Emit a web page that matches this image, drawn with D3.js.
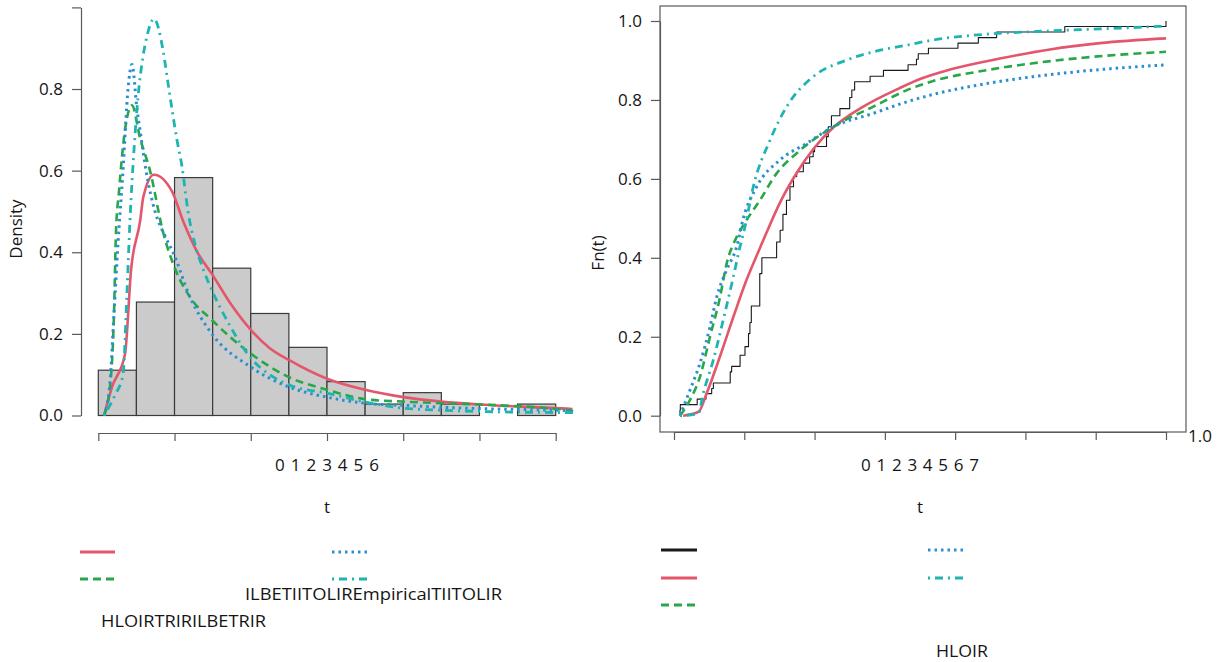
<!DOCTYPE html>
<html><head><meta charset="utf-8">
<script src="https://cdn.jsdelivr.net/npm/d3@7"></script>
<style>
body{margin:0;background:#fff}
svg{display:block}
text{font-family:"Open Sans",sans-serif;fill:#151515}
</style>
</head><body>
<svg id="c" width="1223" height="662"></svg>
<script>
// ---------- DATA ----------
const histBreaks = [0,0.5,1,1.5,2,2.5,3,3.5,4,4.5,5,5.5,6];
const histDensity = [0.111,0.278,0.583,0.361,0.25,0.167,0.083,0.028,0.056,0.028,0,0.028];

const leftXTicks = [0,1,2,3,4,5,6];
const leftYTicks = [0,0.2,0.4,0.6,0.8,1.0];
const rightXTicks = [0,1,2,3,4,5,6,7];
const rightYTicks = [0,0.2,0.4,0.6,0.8,1.0];

// density curves (t, density)
const densRed = [[0.075,0],[0.18,0.07],[0.35,0.15],[0.43,0.357],[0.55,0.478],[0.59,0.535],[0.73,0.59],[0.97,0.548],[1.11,0.478],[1.3,0.40],[1.5,0.344],[1.75,0.27],[2.0,0.21],[2.25,0.165],[2.5,0.136],[3.0,0.09],[3.5,0.063],[4.0,0.045],[4.5,0.034],[5.0,0.027],[5.5,0.022],[6.0,0.018],[6.22,0.016]];
const densGreen = [[0.075,0],[0.153,0.07],[0.206,0.25],[0.232,0.45],[0.272,0.55],[0.35,0.70],[0.442,0.76],[0.547,0.68],[0.678,0.6],[0.849,0.45],[1.006,0.36],[1.203,0.29],[1.49,0.234],[1.99,0.153],[2.5,0.094],[3.0,0.063],[3.5,0.04],[4.0,0.034],[4.52,0.03],[5.0,0.027],[6.0,0.016],[6.23,0.011]];
const densBlue = [[0.075,0],[0.153,0.08],[0.206,0.25],[0.258,0.42],[0.324,0.6],[0.39,0.8],[0.442,0.86],[0.508,0.75],[0.547,0.7],[0.626,0.6],[0.744,0.5],[0.875,0.44],[0.98,0.40],[1.203,0.29],[1.49,0.20],[1.99,0.12],[2.5,0.07],[3.0,0.045],[3.5,0.03],[4.0,0.025],[4.52,0.02],[5.0,0.017],[6.0,0.013],[6.23,0.012]];
const densTeal = [[0.075,0],[0.219,0.05],[0.324,0.1],[0.376,0.3],[0.416,0.48],[0.468,0.65],[0.521,0.78],[0.587,0.88],[0.639,0.93],[0.731,0.972],[0.849,0.895],[0.914,0.815],[0.967,0.75],[1.032,0.675],[1.098,0.61],[1.177,0.5],[1.268,0.42],[1.373,0.36],[1.49,0.307],[1.727,0.22],[1.99,0.143],[2.25,0.1],[2.5,0.075],[3.0,0.055],[3.5,0.033],[4.0,0.018],[4.52,0.013],[5.0,0.01],[6.23,0.007]];

// empirical CDF steps
const ecdfT = [0.085,0.09,0.33,0.455,0.536,0.56,0.80,0.82,0.94,1.01,1.06,1.08,1.10,1.22,1.25,1.46,1.51,1.55,1.60,1.65,1.70,1.745,1.84,1.93,1.98,2.0,2.17,2.195,2.24,2.36,2.50,2.53,2.57,2.79,2.98,3.33,3.45,3.475,3.62,4.04,4.33,4.59,5.56,7.0];
const ecdfF = [0.014,0.028,0.042,0.056,0.069,0.083,0.111,0.125,0.153,0.175,0.208,0.236,0.278,0.36,0.40,0.44,0.47,0.51,0.546,0.58,0.606,0.618,0.64,0.656,0.669,0.682,0.707,0.732,0.76,0.778,0.806,0.825,0.846,0.86,0.875,0.889,0.903,0.917,0.931,0.944,0.958,0.972,0.986,1.0];

// fitted CDF curves (t, F)
const cdfRed = [[0.13,0],[0.35,0.01],[0.465,0.057],[0.654,0.15],[0.844,0.25],[1.034,0.345],[1.223,0.425],[1.319,0.465],[1.508,0.54],[1.745,0.615],[1.98,0.675],[2.266,0.73],[2.693,0.783],[3.21,0.83],[3.5,0.853],[3.926,0.877],[4.637,0.905],[5.348,0.928],[6.06,0.944],[7.0,0.956]];
const cdfGreen = [[0.085,0],[0.228,0.04],[0.37,0.099],[0.512,0.2],[0.654,0.3],[0.75,0.386],[0.892,0.453],[1.034,0.496],[1.223,0.546],[1.46,0.614],[1.745,0.665],[2.266,0.732],[2.835,0.783],[3.29,0.823],[3.688,0.848],[4.4,0.874],[5.11,0.893],[5.82,0.907],[7.0,0.922]];
const cdfBlue = [[0.085,0],[0.228,0.065],[0.37,0.133],[0.512,0.225],[0.607,0.3],[0.75,0.37],[0.892,0.428],[0.986,0.5],[1.176,0.58],[1.508,0.648],[1.888,0.69],[2.266,0.732],[2.835,0.766],[3.29,0.794],[3.688,0.814],[4.4,0.84],[5.11,0.859],[5.82,0.873],[7.0,0.889]];
const cdfTeal = [[0.085,0],[0.346,0.005],[0.417,0.057],[0.559,0.141],[0.701,0.243],[0.844,0.352],[0.939,0.428],[1.01,0.479],[1.128,0.58],[1.366,0.698],[1.603,0.783],[1.98,0.859],[2.457,0.901],[2.93,0.926],[3.29,0.938],[3.688,0.952],[4.4,0.966],[5.11,0.973],[6.06,0.98],[7.0,0.987]];

const leftLegendText1 = "ILBETIITOLIREmpiricalTIITOLIR";
const leftLegendText2 = "HLOIRTRIRILBETRIR";
const rightLegendText = "HLOIR";
const strayLabel = "1.0";

// ---------- STYLE ----------
const C = {red:"#E3566B", green:"#27A748", blue:"#2A8FD2", teal:"#1DB4B2", black:"#1a1a1a", axis:"#5a5a5a"};
const S = {
  red:{stroke:C.red, width:2.6, dash:null},
  green:{stroke:C.green, width:2.6, dash:"8,5"},
  blue:{stroke:C.blue, width:3, dash:"2.5,4"},
  teal:{stroke:C.teal, width:2.8, dash:"2,5,8,5"},
  black:{stroke:C.black, width:1.1, dash:null}
};

const svg = d3.select("#c");
const FS = 17;

// ---------- LEFT PANEL ----------
const xL = d3.scaleLinear().domain([0,6]).range([98.3,555.7]);
const yL = d3.scaleLinear().domain([0,1]).range([415.5,7.4]);

const gL = svg.append("g");
gL.selectAll("rect.bar").data(histDensity).join("rect")
  .attr("x",(d,i)=>xL(histBreaks[i]))
  .attr("width",(d,i)=>xL(histBreaks[i+1])-xL(histBreaks[i]))
  .attr("y",d=>yL(d))
  .attr("height",d=>yL(0)-yL(d))
  .attr("fill","#cbcbcb").attr("stroke","#3a3a3a").attr("stroke-width",1.2);

function drawLine(g, data, x, y, st, curve){
  const p = g.append("path").datum(data)
    .attr("d", d3.line().x(d=>x(d[0])).y(d=>y(d[1])).curve(curve||d3.curveMonotoneX))
    .attr("fill","none").attr("stroke",st.stroke).attr("stroke-width",st.width)
    .attr("stroke-linejoin","round");
  if(st.dash) p.attr("stroke-dasharray",st.dash);
  return p;
}
drawLine(gL, densRed, xL, yL, S.red);
drawLine(gL, densGreen, xL, yL, S.green);
drawLine(gL, densBlue, xL, yL, S.blue);
drawLine(gL, densTeal, xL, yL, S.teal);

gL.append("g").attr("transform","translate(81,0)")
  .call(d3.axisLeft(yL).tickValues(leftYTicks).tickSize(9).tickSizeOuter(0).tickPadding(9)
    .tickFormat(d=> d===1 ? "" : d3.format(".1f")(d)));
gL.append("g").attr("transform","translate(0,433)")
  .call(d3.axisBottom(xL).tickValues(leftXTicks).tickSize(8).tickSizeOuter(0).tickFormat(""));
gL.append("text").attr("x",(xL.range()[0]+xL.range()[1])/2).attr("y",471)
  .attr("text-anchor","middle").attr("font-size",FS)
  .attr("textLength",104).attr("lengthAdjust","spacing")
  .text(leftXTicks.join(" "));
gL.append("text").attr("x",(xL.range()[0]+xL.range()[1])/2).attr("y",513)
  .attr("text-anchor","middle").attr("font-size",FS).text("t");
gL.append("text").attr("transform","translate(22,229) rotate(-90)")
  .attr("text-anchor","middle").attr("font-size",FS).text("Density");

// ---------- RIGHT PANEL ----------
const xR = d3.scaleLinear().domain([0,7]).range([674,1166]);
const yR = d3.scaleLinear().domain([0,1]).range([415.7,21]);
const gR = svg.append("g");
gR.append("rect").attr("x",660).attr("y",6).attr("width",526).attr("height",426)
  .attr("fill","none").attr("stroke",C.axis).attr("stroke-width",1.2);

const ecdfData = ecdfT.map((t,i)=>[t,ecdfF[i]]);
ecdfData.unshift([ecdfT[0],0.006]);
drawLine(gR, ecdfData, xR, yR, S.black, d3.curveStepAfter);
drawLine(gR, cdfRed, xR, yR, S.red);
drawLine(gR, cdfGreen, xR, yR, S.green);
drawLine(gR, cdfBlue, xR, yR, S.blue);
drawLine(gR, cdfTeal, xR, yR, S.teal);

gR.append("g").attr("transform","translate(660,0)")
  .call(d3.axisLeft(yR).tickValues(rightYTicks).tickSize(9).tickSizeOuter(0).tickPadding(9)
    .tickFormat(d3.format(".1f")));
gR.append("g").attr("transform","translate(0,432)")
  .call(d3.axisBottom(xR).tickValues(rightXTicks).tickSize(8).tickSizeOuter(0).tickFormat(""));
gR.append("text").attr("x",(xR.range()[0]+xR.range()[1])/2).attr("y",471)
  .attr("text-anchor","middle").attr("font-size",FS)
  .attr("textLength",118).attr("lengthAdjust","spacing")
  .text(rightXTicks.join(" "));
gR.append("text").attr("x",(xR.range()[0]+xR.range()[1])/2).attr("y",513)
  .attr("text-anchor","middle").attr("font-size",FS).text("t");
gR.append("text").attr("transform","translate(604,253) rotate(-90)")
  .attr("text-anchor","middle").attr("font-size",FS).text("Fn(t)");
gR.append("text").attr("x",1188).attr("y",442).attr("font-size",FS).text(strayLabel);

svg.selectAll(".domain, .tick line").attr("stroke",C.axis).attr("stroke-width",1.2);
svg.selectAll(".tick text").attr("font-size",FS).attr("fill","#151515")
  .style("font-family",'"Open Sans",sans-serif');

// ---------- LEGENDS ----------
function legendLine(x1,x2,y,st){
  const l = svg.append("line").attr("x1",x1).attr("x2",x2).attr("y1",y).attr("y2",y)
    .attr("stroke",st.stroke).attr("stroke-width",Math.max(st.width,2.8));
  if(st.dash) l.attr("stroke-dasharray",st.dash);
}
const leftLegend = [[80,115,552,S.red],[80,115,579,S.green],[332,367,552,S.blue],[332,367,579,S.teal]];
leftLegend.forEach(d=>legendLine(...d));
const rightLegend = [[661,697,550,S.black],[661,697,578,S.red],[661,697,605,S.green],[928,964,550,S.blue],[928,964,578,S.teal]];
rightLegend.forEach(d=>legendLine(...d));

svg.append("text").attr("x",245).attr("y",600).attr("font-size",FS)
  .attr("textLength",257).attr("lengthAdjust","spacingAndGlyphs").text(leftLegendText1);
svg.append("text").attr("x",101).attr("y",627).attr("font-size",FS)
  .attr("textLength",165).attr("lengthAdjust","spacingAndGlyphs").text(leftLegendText2);
svg.append("text").attr("x",936).attr("y",657).attr("font-size",FS)
  .attr("textLength",52).attr("lengthAdjust","spacingAndGlyphs").text(rightLegendText);
</script>
</body></html>
